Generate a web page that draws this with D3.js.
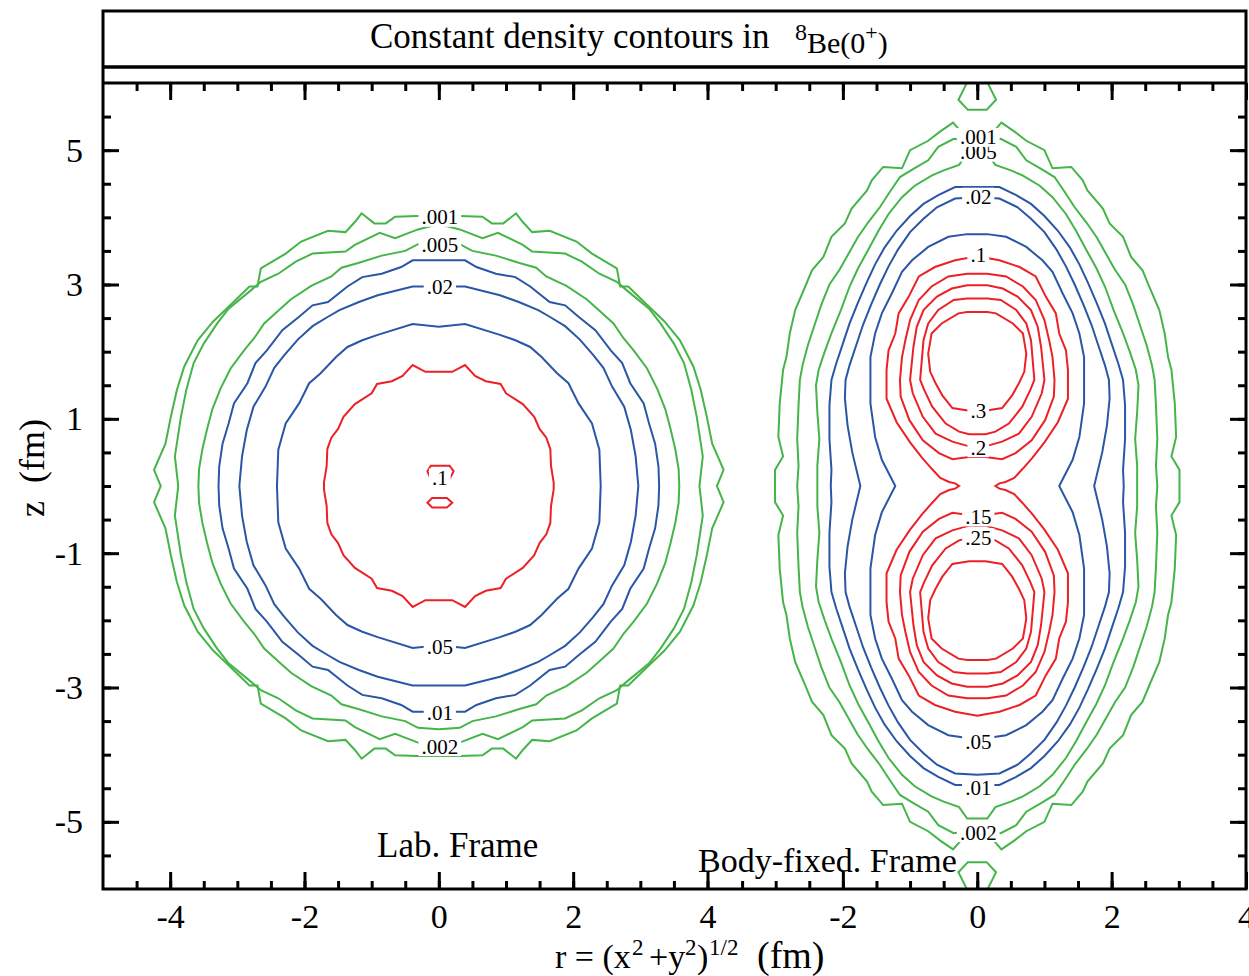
<!DOCTYPE html>
<html>
<head>
<meta charset="utf-8">
<script src="https://cdn.jsdelivr.net/npm/d3@7"></script>
<style>
body{margin:0;background:#fff;}
text{font-family:"Liberation Serif","Times New Roman",serif;fill:#000;}
</style>
</head>
<body>
<script>
var width=1249, height=976;

// density levels of the lab frame contours
var labLevels=[0.001,0.002,0.005,0.01,0.02,0.05,0.1];
// one quarter of each contour (r>=0, z>=0), from the top (r=0) round to z=0
var labQuarters=[
 [[0,4.02],[0.31,4.02],[0.65,4.01],[0.79,3.91],[0.96,3.91],[1.15,4.06],[1.25,3.93],[1.39,3.78],[1.65,3.80],[2.05,3.64],[2.28,3.46],[2.65,3.24],[2.70,2.97],[2.82,2.97],[3.13,2.67],[3.36,2.45],[3.59,2.17],[3.79,1.78],[3.90,1.43],[3.99,1.03],[4.07,0.63],[4.24,0.24],[4.14,0]],
 [[0,3.90],[0.31,3.82],[0.65,3.69],[0.88,3.77],[1.25,3.59],[1.39,3.49],[1.88,3.46],[2.13,3.34],[2.39,3.16],[2.65,3.04],[2.79,2.92],[3.13,2.64],[3.30,2.42],[3.50,2.12],[3.65,1.83],[3.76,1.43],[3.84,1.03],[3.93,0.44],[3.88,0]],
 [[0,3.62],[0.31,3.60],[0.50,3.50],[0.85,3.43],[1.20,3.32],[1.45,3.25],[1.60,3.12],[1.90,2.98],[2.20,2.78],[2.40,2.60],[2.60,2.42],[2.75,2.20],[2.90,2.02],[3.10,1.75],[3.25,1.45],[3.37,1.15],[3.45,0.85],[3.52,0.55],[3.57,0.25],[3.58,0]],
 [[0,3.36],[0.39,3.36],[0.56,3.26],[0.85,3.16],[1.14,3.11],[1.36,2.97],[1.65,2.74],[1.88,2.69],[2.08,2.52],[2.33,2.32],[2.56,2.02],[2.73,1.83],[2.85,1.53],[3.05,1.23],[3.13,0.93],[3.22,0.63],[3.27,0.29],[3.28,0]],
 [[0,2.97],[0.39,2.97],[0.51,2.94],[0.91,2.84],[1.19,2.74],[1.48,2.62],[1.65,2.52],[1.88,2.38],[2.10,2.18],[2.30,1.95],[2.45,1.76],[2.58,1.48],[2.76,1.18],[2.86,0.83],[2.93,0.44],[2.97,0]],
 [[0,2.37],[0.39,2.41],[0.91,2.25],[1.14,2.17],[1.36,2.07],[1.53,1.92],[1.76,1.68],[1.93,1.53],[2.08,1.23],[2.28,0.93],[2.39,0.54],[2.41,0]],
 [[0,1.70],[0.20,1.70],[0.39,1.80],[0.54,1.64],[0.70,1.56],[0.92,1.52],[1.00,1.38],[1.25,1.22],[1.42,1.03],[1.50,0.85],[1.60,0.72],[1.66,0.55],[1.67,0.30],[1.71,0.05],[1.71,0]]
];
// two small .1 pockets around the centre
var labPockets=[
 [[-0.12,0.30],[0.16,0.30],[0.22,0.22],[0.16,0.10],[-0.12,0.10],[-0.17,0.22]],
 [[-0.10,-0.18],[0.12,-0.18],[0.20,-0.25],[0.12,-0.32],[-0.10,-0.32],[-0.17,-0.25]]
];
var labLabels=[".001",".005",".02",".1",".05",".01",".002"];
var labLabelZ=[4.0,3.59,2.96,0.12,-2.40,-3.38,-3.88];

// body-fixed frame: outer contours that enclose both alpha clusters
var bfLevels=[0.001,0.002,0.005,0.01,0.02,0.05,0.1];
var bfQuarters=[
 [[0,5.22],[0.22,5.25],[0.36,5.41],[0.55,5.28],[0.73,5.14],[1.00,5.00],[1.12,4.73],[1.40,4.75],[1.57,4.55],[1.64,4.40],[1.87,4.13],[1.97,3.91],[2.17,3.71],[2.29,3.41],[2.46,3.21],[2.56,2.97],[2.71,2.62],[2.79,2.27],[2.84,1.92],[2.89,1.73],[2.94,1.23],[2.96,0.73],[2.89,0.44],[3.01,0.24],[3.01,0]],
 [[0,5.12],[0.35,5.17],[0.58,5.05],[0.73,4.85],[0.95,4.72],[1.15,4.60],[1.30,4.38],[1.45,4.15],[1.62,3.93],[1.78,3.70],[1.92,3.45],[2.05,3.22],[2.20,3.00],[2.32,2.70],[2.42,2.40],[2.52,2.10],[2.60,1.80],[2.64,1.58],[2.66,1.20],[2.68,0.70],[2.66,0.30],[2.68,0]],
 [[0,4.95],[0.15,4.95],[0.27,4.78],[0.50,4.70],[0.68,4.62],[0.93,4.47],[1.12,4.30],[1.32,4.05],[1.47,3.80],[1.62,3.52],[1.77,3.25],[1.90,2.97],[2.03,2.62],[2.16,2.30],[2.27,2.00],[2.36,1.73],[2.40,1.50],[2.38,1.10],[2.35,0.70],[2.38,0.30],[2.38,0]],
 [[0,4.45],[0.33,4.45],[0.58,4.33],[0.80,4.20],[1.00,4.02],[1.20,3.80],[1.38,3.55],[1.52,3.30],[1.65,3.02],[1.78,2.72],[1.90,2.42],[2.00,2.12],[2.10,1.82],[2.17,1.58],[2.20,1.20],[2.20,0.70],[2.17,0.24],[2.18,0]],
 [[0,4.30],[0.33,4.28],[0.60,4.15],[0.80,3.98],[1.00,3.78],[1.18,3.52],[1.32,3.27],[1.45,3.00],[1.58,2.70],[1.70,2.40],[1.80,2.10],[1.90,1.80],[1.96,1.58],[1.97,1.30],[1.93,0.90],[1.86,0.50],[1.74,0]],
 [[0,3.75],[0.15,3.75],[0.43,3.71],[0.73,3.56],[0.97,3.36],[1.12,3.19],[1.27,2.87],[1.42,2.57],[1.52,2.27],[1.59,1.92],[1.59,1.58],[1.59,1.23],[1.52,0.73],[1.42,0.39],[1.22,0]],
 [[0,3.42],[0.33,3.36],[0.63,3.26],[0.87,3.12],[1.02,2.82],[1.17,2.57],[1.22,2.27],[1.32,2.02],[1.35,1.73],[1.35,1.30],[1.20,0.95],[1.00,0.65],[0.82,0.42],[0.68,0.26],[0.55,0.12],[0.42,0.06],[0.33,0.04],[0.27,0]]
];
// closed rings inside each cluster: right half of the upper one, top to bottom
var lobeLevels=[0.15,0.2,0.25,0.3];
var lobeHalves=[
 [[0,3.16],[0.15,3.16],[0.43,3.12],[0.68,2.97],[0.87,2.77],[1.00,2.47],[1.07,2.17],[1.12,1.92],[1.15,1.58],[1.14,1.33],[1.01,0.98],[0.81,0.68],[0.57,0.49],[0.37,0.40],[0.12,0.43],[0,0.43]],
 [[0,2.99],[0.15,2.99],[0.38,2.94],[0.60,2.82],[0.80,2.62],[0.90,2.37],[0.95,2.07],[1.00,1.58],[0.96,1.38],[0.81,1.03],[0.62,0.78],[0.37,0.66],[0.12,0.59],[0,0.59]],
 [[0,2.79],[0.15,2.79],[0.35,2.77],[0.58,2.62],[0.73,2.42],[0.80,2.17],[0.85,1.58],[0.79,1.43],[0.67,1.18],[0.47,0.93],[0.27,0.81],[0.12,0.77],[0,0.77]],
 [[0,2.59],[0.15,2.59],[0.28,2.57],[0.53,2.42],[0.68,2.27],[0.73,1.97],[0.70,1.70],[0.62,1.53],[0.52,1.35],[0.37,1.16],[0.12,1.12],[0,1.12]]
];
// .001 pocket at the upper edge (mirrored to the lower edge)
var bfCap=[[-0.14,6.03],[0.14,6.03],[0.28,5.75],[0.14,5.60],[-0.14,5.60],[-0.28,5.75]];
var bfLabels=[".005",".001",".02",".1",".3",".2",".15",".25",".05",".01",".002"];
var bfLabelZ=[4.97,5.19,4.30,3.44,1.12,0.57,-0.46,-0.77,-3.81,-4.49,-5.16];

var xTicksLab=[-4,-2,0,2,4];
var xTicksBf=[-2,0,2,4];
var zTicks=[-5,-3,-1,1,3,5];

var green="#45b549", blue="#2a56a6", red="#ec2127";
function levelColor(l){ return l<0.01 ? green : (l<0.1 ? blue : red); }

var pLeft=103, pRight=1246, pTop=83, pBottom=889;
var xL=d3.scaleLinear().domain([-5,4]).range([pLeft,707.5]);
var xR=d3.scaleLinear().domain([-4,4]).range([708.5,pRight]);
var y=d3.scaleLinear().domain([-6,6]).range([pBottom,pTop]);

var svg=d3.select("body").append("svg").attr("width",width).attr("height",height);

svg.append("defs").append("clipPath").attr("id","plotclip")
 .append("rect").attr("x",pLeft).attr("y",pTop).attr("width",pRight-pLeft).attr("height",pBottom-pTop);

// quarter -> closed loop by mirroring in r and z
function fullContour(q){
	var q4=q.slice().reverse().map(function(p){return [p[0],-p[1]];});
	var q3=q.map(function(p){return [-p[0],-p[1]];});
	var q2=q.slice().reverse().map(function(p){return [-p[0],p[1]];});
	return q.concat(q4.slice(1),q3.slice(1),q2.slice(1,-1));
}
// right half -> closed ring by mirroring in r
function fullLobe(h){
	return h.concat(h.slice(1,-1).reverse().map(function(p){return [-p[0],p[1]];}));
}
function flipZ(pts){ return pts.map(function(p){return [p[0],-p[1]];}); }

function lineFor(xs){
	return d3.line().x(function(d){return xs(d[0]);}).y(function(d){return y(d[1]);}).curve(d3.curveLinearClosed);
}

var plot=svg.append("g").attr("clip-path","url(#plotclip)");

function drawPath(xs,pts,color){
	plot.append("path").attr("d",lineFor(xs)(pts)).attr("fill","none")
		.attr("stroke",color).attr("stroke-width",2).attr("stroke-linejoin","miter");
}

// lab frame
labQuarters.forEach(function(q,i){ drawPath(xL,fullContour(q),levelColor(labLevels[i])); });
labPockets.forEach(function(p){ drawPath(xL,p,red); });

// body-fixed frame
bfQuarters.forEach(function(q,i){ drawPath(xR,fullContour(q),levelColor(bfLevels[i])); });
lobeHalves.forEach(function(h,i){
	var ring=fullLobe(h);
	drawPath(xR,ring,levelColor(lobeLevels[i]));
	drawPath(xR,flipZ(ring),levelColor(lobeLevels[i]));
});
drawPath(xR,bfCap,green);
drawPath(xR,flipZ(bfCap),green);

// contour labels on white patches
function addLabels(xs,texts,zs){
	var g=svg.append("g");
	texts.forEach(function(t,i){
		var cy=y(zs[i]);
		var txt=g.append("text").attr("x",xs(0)+1).attr("y",cy+7).attr("text-anchor","middle")
			.attr("font-size",21).text(t);
		var w=txt.node().getComputedTextLength();
		g.insert("rect",function(){return txt.node();})
			.attr("x",xs(0)+1-w/2-3).attr("y",cy-9.5).attr("width",w+6).attr("height",19).attr("fill","#fff");
	});
}
addLabels(xL,labLabels,labLabelZ);
addLabels(xR,bfLabels,bfLabelZ);

svg.append("text").attr("x",377).attr("y",857).attr("font-size",35).text("Lab. Frame");
svg.append("text").attr("x",698).attr("y",872).attr("font-size",34).text("Body-fixed. Frame");

// axes, ticks pointing inwards on all four sides
function styleAxis(g){
	g.select(".domain").remove();
	g.selectAll(".tick line").attr("stroke","#000").attr("stroke-width",3);
	g.attr("font-family","Liberation Serif, Times New Roman, serif").attr("font-size",34);
	g.selectAll("text").attr("fill","#000");
}
var fmt=function(d){return String(d);};
[[xL,d3.range(-4.5,4.01,0.5),xTicksLab],[xR,d3.range(-3.5,4.01,0.5),xTicksBf]].forEach(function(a){
	svg.append("g").attr("transform","translate(0,"+pBottom+")")
		.call(d3.axisBottom(a[0]).tickValues(a[1]).tickSize(-8).tickFormat("")).call(styleAxis);
	svg.append("g").attr("transform","translate(0,"+pBottom+")")
		.call(d3.axisBottom(a[0]).tickValues(a[2]).tickSize(-17).tickPadding(15).tickFormat(fmt)).call(styleAxis);
	svg.append("g").attr("transform","translate(0,"+pTop+")")
		.call(d3.axisTop(a[0]).tickValues(a[1]).tickSize(-8).tickFormat("")).call(styleAxis);
	svg.append("g").attr("transform","translate(0,"+pTop+")")
		.call(d3.axisTop(a[0]).tickValues(a[2]).tickSize(-17).tickFormat("")).call(styleAxis);
});
var zMinor=d3.range(-5.5,5.51,0.5);
svg.append("g").attr("transform","translate("+pLeft+",0)")
	.call(d3.axisLeft(y).tickValues(zMinor).tickSize(-8).tickFormat("")).call(styleAxis);
svg.append("g").attr("transform","translate("+pLeft+",0)")
	.call(d3.axisLeft(y).tickValues(zTicks).tickSize(-16).tickPadding(20).tickFormat(fmt)).call(styleAxis);
svg.append("g").attr("transform","translate("+pRight+",0)")
	.call(d3.axisRight(y).tickValues(zMinor).tickSize(-8).tickFormat("")).call(styleAxis);
svg.append("g").attr("transform","translate("+pRight+",0)")
	.call(d3.axisRight(y).tickValues(zTicks).tickSize(-16).tickFormat("")).call(styleAxis);

// frame and title box
svg.append("rect").attr("x",pLeft).attr("y",11).attr("width",pRight-pLeft).attr("height",pBottom-11)
	.attr("fill","none").attr("stroke","#000").attr("stroke-width",3);
svg.append("line").attr("x1",pLeft).attr("x2",pRight).attr("y1",67).attr("y2",67).attr("stroke","#000").attr("stroke-width",3.5);
svg.append("line").attr("x1",pLeft).attr("x2",pRight).attr("y1",pTop).attr("y2",pTop).attr("stroke","#000").attr("stroke-width",3);

var title=svg.append("text").attr("y",48).attr("font-size",35);
title.append("tspan").attr("x",370).text("Constant density contours in");
title.append("tspan").attr("x",795).attr("y",40).attr("font-size",24).text("8");
title.append("tspan").attr("y",53).attr("font-size",30).text("Be(0");
title.append("tspan").attr("y",40).attr("font-size",22).text("+");
title.append("tspan").attr("y",53).attr("font-size",30).text(")");

// axis titles
svg.append("text").attr("transform","translate(44,468) rotate(-90)").attr("text-anchor","middle")
	.attr("font-size",36).text("z\u00a0\u00a0(fm)");
var xt=svg.append("text").attr("y",968).attr("font-size",34);
xt.append("tspan").attr("x",555).text("r = (x");
xt.append("tspan").attr("x",632).attr("y",955).attr("font-size",23).text("2");
xt.append("tspan").attr("x",649).attr("y",968).text("+y");
xt.append("tspan").attr("x",685).attr("y",955).attr("font-size",23).text("2");
xt.append("tspan").attr("x",697).attr("y",968).text(")");
xt.append("tspan").attr("x",709).attr("y",955).attr("font-size",23).text("1/2");
xt.append("tspan").attr("x",757).attr("y",968).attr("font-size",38).text("(fm)");
</script>
</body>
</html>
